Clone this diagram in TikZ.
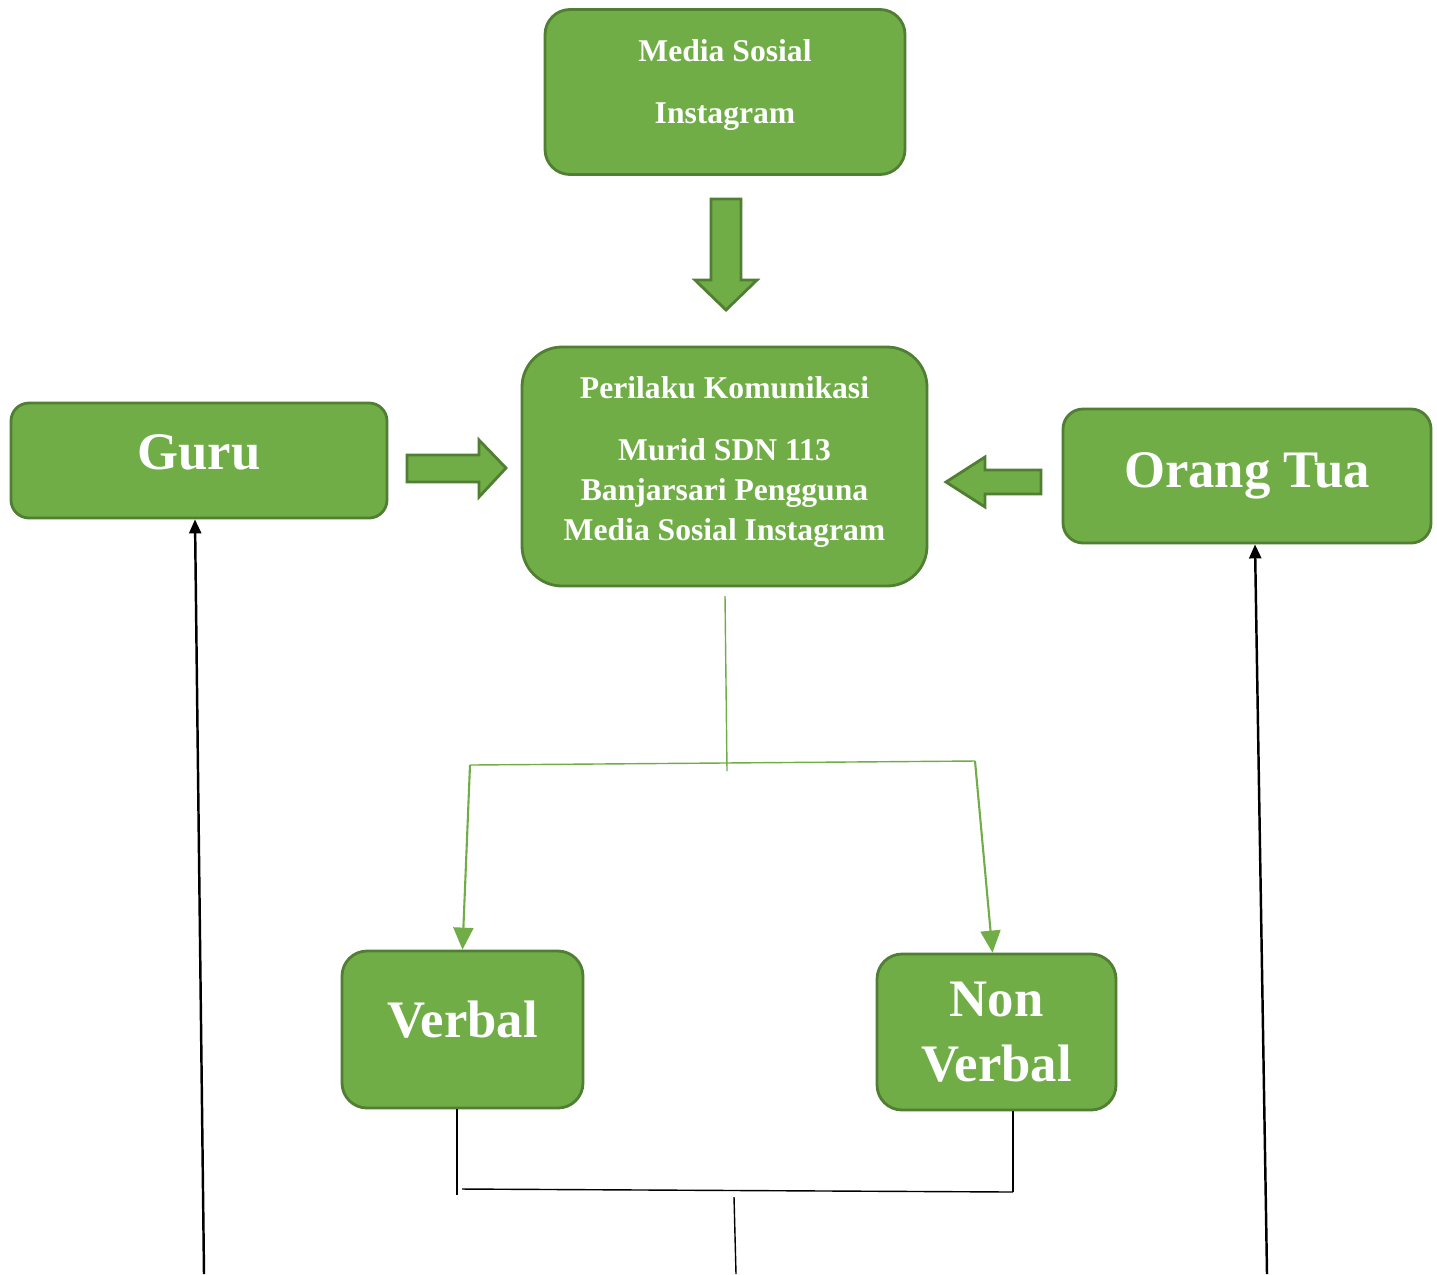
\documentclass[tikz,border=0pt]{standalone}
\usepackage{fontspec}
\setmainfont{Liberation Serif}
\usepackage{tikz}
\usetikzlibrary{arrows.meta}

\definecolor{leaf}{HTML}{70AD47}
\definecolor{leafdark}{HTML}{507E32}

\begin{document}
\begin{tikzpicture}[x=0.1mm, y=-0.1mm,
  box/.style={draw=leafdark, fill=leaf, line width=0.8pt, text=white,
              align=center, inner sep=0pt},
  big/.style={font=\fontsize{15}{18.5}\selectfont\bfseries},
  small/.style={text=white, align=center, inner sep=0pt,
                font=\fontsize{9}{11.4}\selectfont\bfseries},
  blk/.style={draw=leafdark, fill=leaf, line width=0.8pt},
  link/.style={leaf, line width=0.6pt, -{Triangle[length=2.2mm, width=2mm]}},
  bar/.style={black, line width=0.4pt},
  back/.style={black, line width=0.7pt, -{Triangle[length=1.4mm, width=1.2mm]}}
]
\useasboundingbox (0,0) rectangle (1437,1274);

\node[box, rounded corners=2.5mm, minimum width=36mm, minimum height=16.5mm] (media) at (725,92) {};
\node[small] (mediatxt) at (725,85) {Media Sosial\\[6.5pt]Instagram};

\node[box, rounded corners=4mm, minimum width=40.5mm, minimum height=23.9mm] (ctr) at (724.5,466.5) {};
\node[small] (ctrtxt) at (724.5,462) {Perilaku Komunikasi\\[6.2pt]Murid SDN 113\\Banjarsari Pengguna\\Media Sosial Instagram};

\node[box, big, text depth=1.6mm, rounded corners=1.8mm, minimum width=37.6mm, minimum height=11.5mm] (guru) at (199,460.5) {Guru};
\node[box, big, rounded corners=2mm, minimum width=36.8mm, minimum height=13.4mm] (ortu) at (1247,476) {Orang Tua};
\node[box, big, text depth=2mm, rounded corners=2.5mm, minimum width=24.1mm, minimum height=15.7mm] (verbal) at (462.5,1029.5) {Verbal};
\node[box, big, rounded corners=2.5mm, minimum width=23.9mm, minimum height=15.6mm] (nonverbal) at (996.5,1032) {Non\\Verbal};

% block arrows
\draw[blk] (711,199) -- (741,199) -- (741,280) -- (757,280) -- (726,310) -- (695,280) -- (711,280) -- cycle;
\draw[blk] (407,455) -- (479,455) -- (479,440) -- (506,468) -- (479,497) -- (479,482) -- (407,482) -- cycle;
\draw[blk] (1041,470) -- (985,470) -- (985,457) -- (946,482) -- (985,507) -- (985,494) -- (1041,494) -- cycle;

% green fork
\coordinate (stemtop) at (725,596);
\coordinate (stembot) at (727,771);
\coordinate (lfork) at (470,765);
\coordinate (rfork) at (975,761);
\draw[leaf, line width=0.4pt] (stemtop) -- (stembot);
\draw[leaf, line width=0.4pt] (lfork) -- (rfork);
\draw[link] (lfork) -- (verbal.north);
\draw[link] (rfork) -- ([xshift=-0.4mm]nonverbal.north);

% black bracket
\coordinate (vleg) at (457,1195);
\coordinate (nvleg) at (1013,1192);
\coordinate (vjoin) at (462,1189);
\coordinate (mid) at (734,1197);
\coordinate (midend) at (736,1274);
\draw[bar] (verbal.south -| vleg) -- (vleg);
\draw[bar] (nonverbal.south -| nvleg) -- (nvleg);
\draw[bar] (vjoin) -- (nvleg);
\draw[bar] (mid) -- (midend);

% long return lines
\coordinate (gurufoot) at (204,1274);
\coordinate (ortufoot) at (1267,1274);
\draw[back] (gurufoot) -- ([xshift=-0.4mm]guru.south);
\draw[back] (ortufoot) -- ([xshift=0.8mm]ortu.south);
\end{tikzpicture}
\end{document}
